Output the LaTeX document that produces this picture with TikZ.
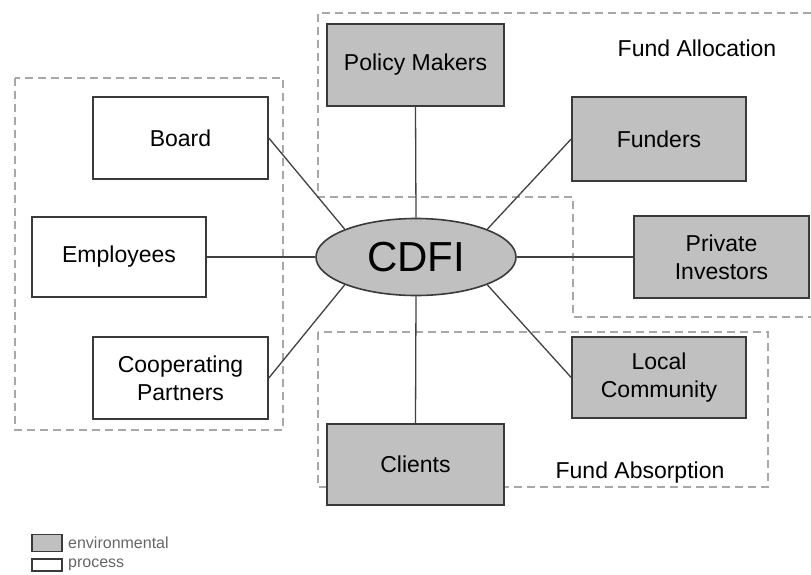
\documentclass[tikz,border=0pt]{standalone}
\usepackage{fontspec}
\setmainfont{Liberation Sans}
\usetikzlibrary{shapes.geometric}
\definecolor{envfill}{HTML}{C0C0C0}
\definecolor{boxline}{HTML}{3A3A3A}
\definecolor{dashcol}{HTML}{A8A8A8}
\begin{document}
\begin{tikzpicture}[x=1pt,y=-1pt,
  envbox/.style={draw=boxline,line width=1.6pt,fill=envfill,align=center,inner sep=0pt,
    font=\fontsize{23}{28}\selectfont},
  procbox/.style={draw=boxline,line width=1.6pt,fill=white,align=center,inner sep=0pt,
    font=\fontsize{23}{28}\selectfont},
  region/.style={draw=dashcol,line width=2pt,dash pattern=on 8pt off 5pt},
  link/.style={draw=black!75,line width=1.3pt},
  legtext/.style={anchor=west,text=black!60,inner sep=0pt,font=\fontsize{16}{18}\selectfont}]
\useasboundingbox (0,0) rectangle (811,575);
% dashed regions
\draw[region] (15,78) rectangle (283,430);
\draw[region] (811,13) -- (318,13) -- (318,197) -- (573,197) -- (573,317) -- (811,317);
\draw[region] (318,332) rectangle (768,487);
% nodes
\node[envbox,ellipse,minimum width=200pt,minimum height=77pt,font=\fontsize{42}{46}\selectfont] (cdfi) at (416,257) {CDFI};
\node[procbox,minimum width=175pt,minimum height=82pt] (board) at (180.5,138) {Board};
\node[procbox,minimum width=174pt,minimum height=80pt] (emp) at (119,257) {Employees};
\node[procbox,minimum width=175pt,minimum height=82pt] (coop) at (180.5,378) {Cooperating\\Partners};
\node[envbox,minimum width=177pt,minimum height=82pt] (policy) at (415.5,65) {Policy Makers};
\node[envbox,minimum width=174pt,minimum height=84pt] (funders) at (659,139) {Funders};
\node[envbox,minimum width=175pt,minimum height=82pt] (private) at (721.5,257) {Private\\Investors};
\node[envbox,minimum width=174pt,minimum height=81pt] (local) at (659,377.5) {Local\\Community};
\node[envbox,minimum width=177pt,minimum height=81pt] (clients) at (415.5,464.5) {Clients};
% region labels
\node[font=\fontsize{23}{26}\selectfont,inner sep=0pt] (alloc) at (697,48) {Fund Allocation};
\node[font=\fontsize{23}{26}\selectfont,inner sep=0pt] (absorb) at (640,473) {Fund Absorption};
% connectors
\draw[link] (board.east) -- (cdfi.north west);
\draw[link] (emp.east) -- (cdfi.west);
\draw[link] (coop.east) -- (cdfi.south west);
\draw[link] (policy.south) -- (cdfi.north);
\draw[link] (funders.west) -- (cdfi.north east);
\draw[link] (private.west) -- (cdfi.east);
\draw[link] (local.west) -- (cdfi.south east);
\draw[link] (clients.north) -- (cdfi.south);
% legend
\node[draw=boxline,line width=1.4pt,fill=envfill,minimum width=30pt,minimum height=17pt,inner sep=0pt] (legenv) at (47,543) {};
\node[draw=boxline,line width=1.4pt,fill=white,minimum width=30pt,minimum height=12pt,inner sep=0pt] (legproc) at (47,565) {};
\node[legtext] (legenvt) at (68,543) {environmental};
\node[legtext] (legproct) at (68,565) {process};
\end{tikzpicture}
\end{document}
